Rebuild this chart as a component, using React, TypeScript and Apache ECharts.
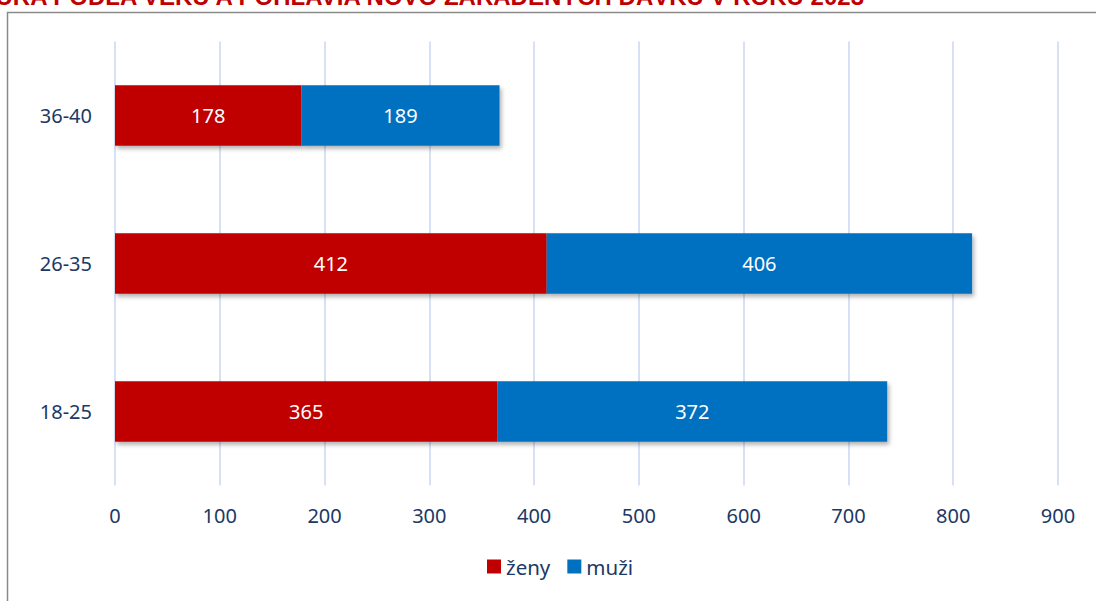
import React, { useEffect, useRef } from "react";
import * as echarts from "echarts";

const categories = ["18-25", "26-35", "36-40"];
const zeny = [365, 412, 178];
const muzi = [372, 406, 189];
const seriesNames = ["ženy", "muži"];
const titleText = "ŠTRUKTÚRA PODĽA VEKU A POHLAVIA NOVO ZARADENÝCH DÁVKU V ROKU 2023";

export default function App() {
  const ref = useRef<HTMLDivElement>(null);
  useEffect(() => {
    if (!ref.current) return;
    const chart = echarts.init(ref.current, null, { renderer: "svg" });
    const font = "'Noto Sans', 'Open Sans', sans-serif";
    const labelColor = "#203864";
    const barLabel = {
      show: true,
      position: "inside" as const,
      color: "#ffffff",
      fontSize: 20,
      fontFamily: font,
    };
    const shadow = {
      shadowBlur: 4,
      shadowOffsetX: 2,
      shadowOffsetY: 3,
      shadowColor: "rgba(0,0,0,0.3)",
    };
    chart.setOption({
      animation: false,
      backgroundColor: "#ffffff",
      graphic: [
        {
          type: "rect",
          shape: { x: 7.5, y: 12.5, width: 1200, height: 700 },
          style: { fill: "none", stroke: "#8a8a8a", lineWidth: 1.5 },
          silent: true,
        },
        {
          type: "text",
          x: 864,
          y: 8,
          style: {
            text: titleText,
            fill: "#C00000",
            font: "bold 24px 'Liberation Sans', Arial, sans-serif",
            textAlign: "right",
            textVerticalAlign: "bottom",
          },
          silent: true,
        },
      ],
      legend: {
        bottom: 19,
        left: 482,
        itemWidth: 14,
        itemHeight: 14,
        itemGap: 17,
        icon: "rect",
        textStyle: { color: labelColor, fontSize: 20.5, fontFamily: font },
        data: seriesNames,
      },
      grid: { left: 115, right: 38, top: 41.5, bottom: 115.5, containLabel: false },
      xAxis: {
        type: "value",
        min: 0,
        max: 900,
        interval: 100,
        axisLine: { show: false },
        axisTick: { show: false },
        splitLine: { show: true, lineStyle: { color: "#D6E2F4", width: 2 } },
        axisLabel: { color: labelColor, fontSize: 20, fontFamily: font, margin: 20 },
      },
      yAxis: {
        type: "category",
        data: categories,
        axisLine: { show: false },
        axisTick: { show: false },
        axisLabel: { color: labelColor, fontSize: 20, fontFamily: font, margin: 23 },
      },
      series: [
        {
          name: seriesNames[0],
          type: "bar",
          stack: "total",
          data: zeny,
          barWidth: "41%",
          itemStyle: { color: "#C00000", ...shadow },
          label: barLabel,
        },
        {
          name: seriesNames[1],
          type: "bar",
          stack: "total",
          data: muzi,
          barWidth: "41%",
          itemStyle: { color: "#0070C0", ...shadow },
          label: barLabel,
        },
      ],
    });
    return () => chart.dispose();
  }, []);
  return (
    <div
      ref={ref}
      style={{ position: "fixed", left: 0, top: 0, width: 1096, height: 601 }}
    />
  );
}
